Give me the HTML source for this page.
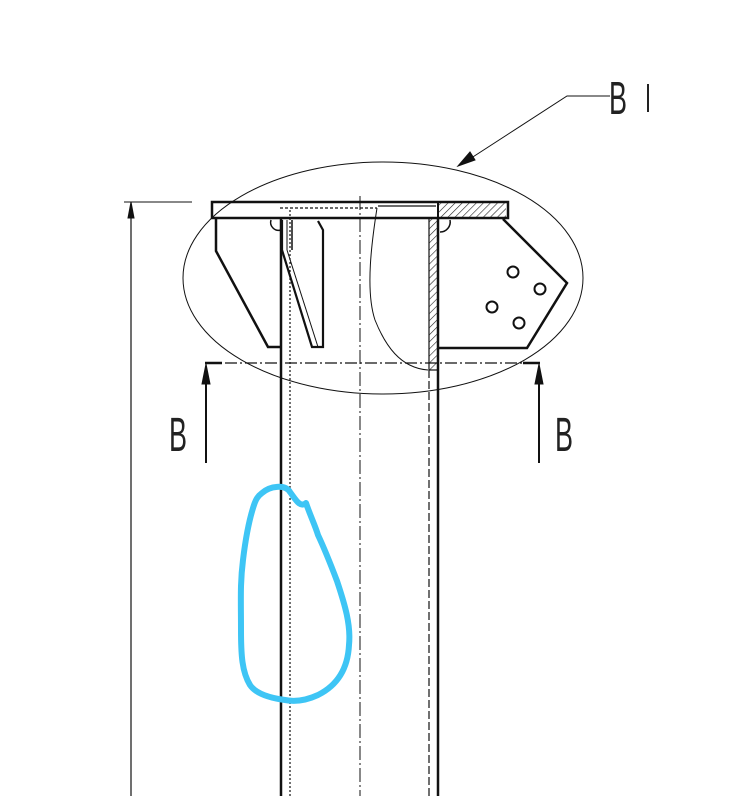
<!DOCTYPE html>
<html><head><meta charset="utf-8"><style>html,body{margin:0;padding:0;background:#fff}svg{display:block}</style></head>
<body>
<svg width="748" height="796" viewBox="0 0 748 796" xmlns="http://www.w3.org/2000/svg" font-family="Liberation Sans, sans-serif">
<defs>
<pattern id="h" width="5" height="5" patternUnits="userSpaceOnUse" patternTransform="rotate(45)">
<line x1="0" y1="0" x2="0" y2="5" stroke="#222" stroke-width="1.2"/></pattern>
</defs>
<g fill="none" stroke="#111">
<ellipse cx="383" cy="278" rx="200" ry="116" stroke-width="1"/>
<polyline points="610,96 567,96 462,164" stroke-width="1"/>
<polygon points="458,166 470,152 475,160" fill="#111"/>
<line x1="131" y1="204" x2="131" y2="796" stroke-width="1.2"/>
<line x1="124" y1="202" x2="192" y2="202" stroke-width="1"/>
<polygon points="131,202 128,218 134,218" fill="#111"/>
<line x1="281" y1="218" x2="281" y2="796" stroke-width="2.5"/>
<line x1="290" y1="210" x2="290" y2="796" stroke-width="1.2" stroke-dasharray="2,2"/>
<line x1="360" y1="196" x2="360" y2="796" stroke-width="1" stroke-dasharray="14,3,2,3"/>
<line x1="429" y1="370" x2="429" y2="796" stroke-width="1.2" stroke-dasharray="8,3"/>
<line x1="438" y1="218" x2="438" y2="796" stroke-width="2.5"/>
<rect x="429" y="218" width="9" height="152" fill="url(#h)" stroke-width="1.2"/>
<rect x="212" y="202" width="296" height="16" stroke-width="2.5"/>
<rect x="438" y="203" width="68" height="14" fill="url(#h)" stroke="none"/>
<line x1="438" y1="202" x2="438" y2="218" stroke-width="2"/>
<line x1="378" y1="206" x2="436" y2="206" stroke-width="1.2"/>
<line x1="280" y1="208" x2="377" y2="208" stroke-width="1.2" stroke-dasharray="3,2"/>
<polyline points="216,219 216,251 268,347 281,347" stroke-width="2.5"/>
<path d="M271,220 a8,8 0 0 0 10,10" stroke-width="1.5"/>
<polyline points="282,220 282,250 312,347 323,347 323,230 318,221" stroke-width="2.2"/>
<line x1="287" y1="220" x2="287" y2="250" stroke-width="1"/>
<line x1="287" y1="250" x2="318" y2="347" stroke-width="1"/>
<line x1="292" y1="220" x2="292" y2="250" stroke-width="1.5"/>
<polyline points="503,219 567,283 527,348 438,348" stroke-width="2.5"/>
<path d="M440,232 a10,10 0 0 0 10,-12" stroke-width="1.5"/>
<circle cx="513" cy="272" r="5.5" stroke-width="2"/>
<circle cx="540" cy="289" r="5.5" stroke-width="2"/>
<circle cx="492" cy="307" r="5.5" stroke-width="2"/>
<circle cx="519" cy="323" r="5.5" stroke-width="2"/>
<path d="M377,208 C372,240 365,290 375,320 C385,345 400,368 428,370" stroke-width="1"/>
<line x1="205" y1="363" x2="540" y2="363" stroke-width="1.2" stroke-dasharray="12,3,2,3"/>
<line x1="205" y1="363" x2="222" y2="363" stroke-width="2.5"/>
<line x1="523" y1="363" x2="540" y2="363" stroke-width="2.5"/>
<line x1="206" y1="372" x2="206" y2="463" stroke-width="2"/>
<polygon points="206,364 202,384 210,384" fill="#111"/>
<line x1="539" y1="372" x2="539" y2="463" stroke-width="2"/>
<polygon points="539,364 535,384 543,384" fill="#111"/>
</g>
<text x="169" y="451" font-size="48" fill="#222" textLength="18" lengthAdjust="spacingAndGlyphs">B</text>
<text x="555" y="451" font-size="48" fill="#222" textLength="18" lengthAdjust="spacingAndGlyphs">B</text>
<text x="609" y="114" font-size="46" fill="#222" textLength="18" lengthAdjust="spacingAndGlyphs">B</text>
<line x1="648" y1="84" x2="648" y2="112" stroke="#222" stroke-width="2"/>
<path d="M262,493 C270,486 285,484 290,492 C296,500 300,508 306,503 C310,515 315,525 318,535 C326,552 337,581 337,581 C345,605 351,625 349,645 C348,665 340,684 318,695 C305,701 295,702 285,700 C270,698 256,694 250,685 C242,672 241,655 241,630 C241,600 240,584 243,560 C246,535 249,520 254,505 C256,499 258,496 262,493 Z" fill="none" stroke="#3ec5f5" stroke-width="6" stroke-linejoin="round"/>
</svg>
</body></html>
